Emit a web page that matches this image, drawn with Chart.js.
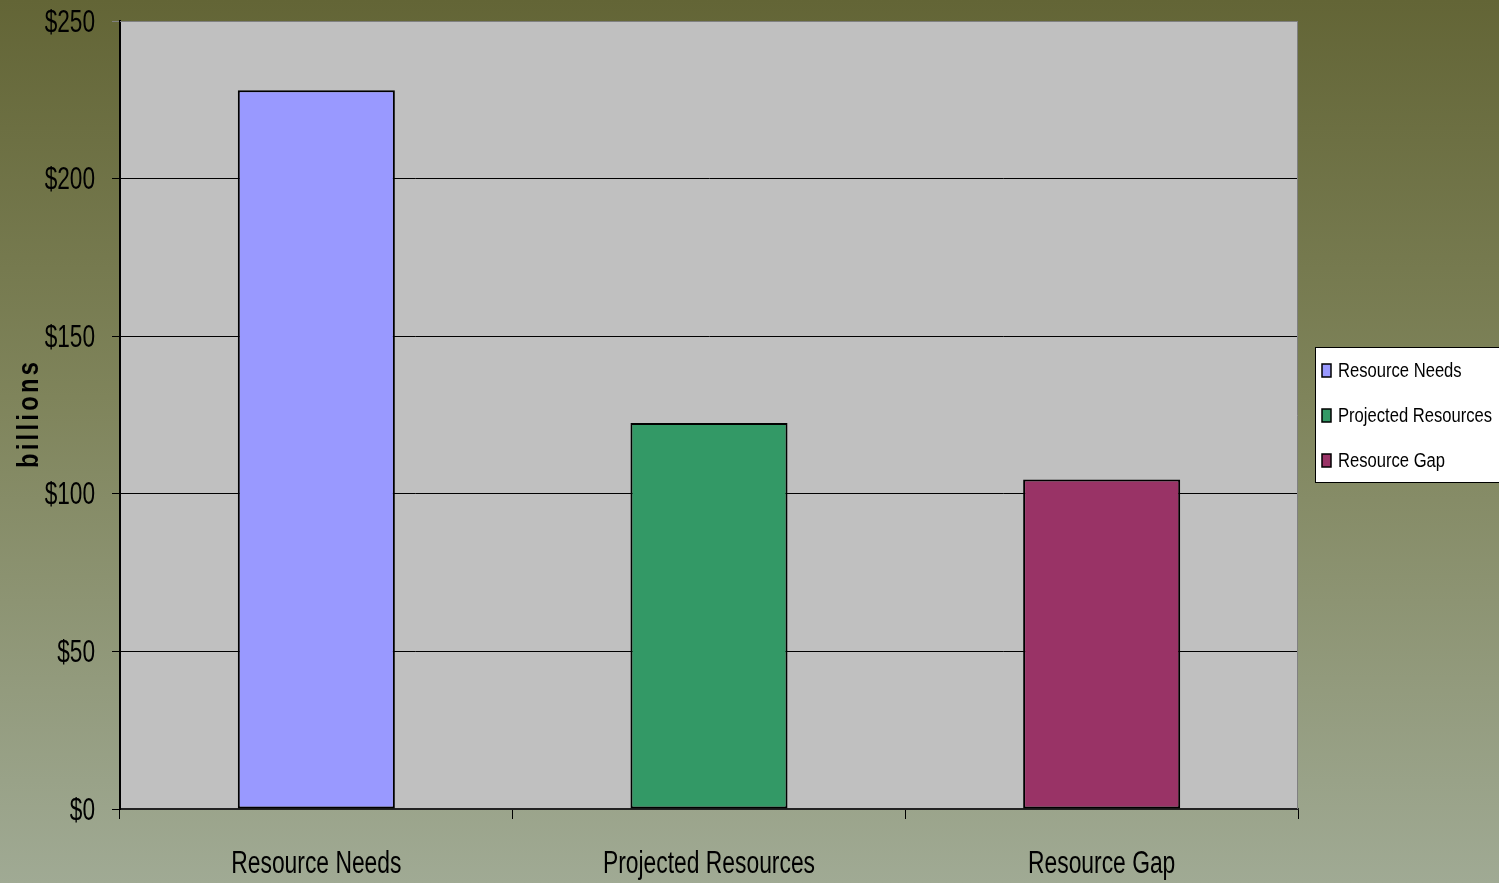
<!DOCTYPE html>
<html>
<head>
<meta charset="utf-8">
<script src="https://cdn.jsdelivr.net/npm/chart.js@4/dist/chart.umd.min.js"></script>
<style>
  html, body { margin: 0; padding: 0; }
  body {
    width: 1499px; height: 883px; overflow: hidden;
    background: linear-gradient(to bottom, #636536 0%, #7f845b 45%, #a0aa94 100%);
  }
  #c { display: block; }
</style>
</head>
<body>
<canvas id="c" width="1499" height="883"></canvas>
<script>
// Funding picture, in billions of dollars
const categories = ['Resource Needs', 'Projected Resources', 'Resource Gap'];
const values = [228, 122.5, 104.5];
const barColors = ['#9999FF', '#339966', '#993366'];
const yTicks = [0, 50, 100, 150, 200, 250];
const yTitle = 'billions';

const SANS = '"Liberation Sans", Arial, sans-serif';

// Text squeezed horizontally, for the condensed lettering
function squeezedText(ctx, text, x, y, sx, align, baseline) {
  ctx.save();
  ctx.translate(x, y);
  ctx.scale(sx, 1);
  ctx.textAlign = align;
  ctx.textBaseline = baseline;
  ctx.fillText(text, 0, 0);
  ctx.restore();
}

// Grey plot area with a thin grey frame on the top and right edges
const plotArea = {
  id: 'plotArea',
  beforeDraw(chart) {
    const { ctx, chartArea: a } = chart;
    ctx.save();
    ctx.fillStyle = '#C0C0C0';
    ctx.fillRect(a.left, a.top, a.right - a.left, a.bottom - a.top);
    ctx.restore();
  },
  beforeDatasetsDraw(chart) {
    const { ctx, chartArea: a } = chart;
    ctx.save();
    ctx.strokeStyle = '#808080';
    ctx.lineWidth = 1;
    ctx.beginPath();
    ctx.moveTo(a.left, a.top + 0.5);
    ctx.lineTo(a.right - 0.5, a.top + 0.5);
    ctx.lineTo(a.right - 0.5, a.bottom);
    ctx.stroke();
    ctx.restore();
  }
};

// Axis labels in condensed lettering, placed by the chart's own scales
const axisLabels = {
  id: 'axisLabels',
  afterDraw(chart) {
    const { ctx } = chart;
    const y = chart.scales.y, x = chart.scales.x;
    ctx.save();
    ctx.fillStyle = '#000';
    ctx.font = '31px ' + SANS;
    y.ticks.forEach(t => {
      squeezedText(ctx, '$' + t.value, 95, y.getPixelForValue(t.value) + 2, 0.73, 'right', 'middle');
    });
    chart.data.labels.forEach((label, i) => {
      squeezedText(ctx, label, x.getPixelForValue(i), 873, 0.737, 'center', 'alphabetic');
    });
    ctx.restore();
  }
};

// Spaced-out vertical axis title
const axisTitle = {
  id: 'axisTitle',
  afterDraw(chart) {
    const { ctx } = chart;
    ctx.save();
    ctx.translate(38, 415);
    ctx.rotate(-Math.PI / 2);
    ctx.scale(0.82, 1);
    ctx.font = 'bold 29px ' + SANS;
    ctx.letterSpacing = '4px';
    ctx.fillStyle = '#000';
    ctx.textAlign = 'center';
    ctx.textBaseline = 'alphabetic';
    ctx.fillText(yTitle, 2, 0);
    ctx.restore();
  }
};

// Boxed legend, one entry per category
const boxLegend = {
  id: 'boxLegend',
  afterDraw(chart) {
    const { ctx } = chart;
    const x = 1315.5, y = 347.5, w = 190, h = 135;
    ctx.save();
    ctx.fillStyle = '#FFFFFF';
    ctx.fillRect(x, y, w, h);
    ctx.strokeStyle = '#000';
    ctx.lineWidth = 1;
    ctx.strokeRect(x, y, w, h);
    ctx.font = '20px ' + SANS;
    chart.data.labels.forEach((label, i) => {
      const cy = 370 + i * 45;
      ctx.fillStyle = chart.data.datasets[0].backgroundColor[i];
      ctx.fillRect(1322, cy - 6, 9, 13);
      ctx.strokeStyle = '#000';
      ctx.lineWidth = 1.5;
      ctx.strokeRect(1322, cy - 6, 9, 13);
      ctx.fillStyle = '#000';
      squeezedText(ctx, label, 1338, cy + 7, 0.83, 'left', 'alphabetic');
    });
    ctx.restore();
  }
};

new Chart(document.getElementById('c'), {
  type: 'bar',
  data: {
    labels: categories,
    datasets: [{
      data: values,
      backgroundColor: barColors,
      borderColor: '#000',
      borderWidth: 2,
      borderSkipped: false,
      barPercentage: 0.4,
      categoryPercentage: 1
    }]
  },
  options: {
    responsive: false,
    animation: false,
    devicePixelRatio: 1,
    layout: { padding: { left: 0, top: 21, right: 201, bottom: 0 } },
    plugins: {
      legend: { display: false },
      tooltip: { enabled: false }
    },
    scales: {
      x: {
        grid: {
          offset: true,
          drawOnChartArea: false,
          drawTicks: true,
          tickLength: 10,
          color: '#000',
          lineWidth: 1
        },
        border: { color: '#222', width: 2 },
        ticks: { display: false },
        afterFit(scale) { scale.height = 74; }
      },
      y: {
        min: 0,
        max: 250,
        afterBuildTicks(scale) { scale.ticks = yTicks.map(v => ({ value: v })); },
        grid: {
          color: ctx => (ctx.tick && ctx.tick.value === 250 ? '#808080' : '#000'),
          lineWidth: 1,
          tickLength: 8
        },
        border: { color: '#000', width: 2 },
        ticks: { display: false },
        afterFit(scale) { scale.width = 120; }
      }
    }
  },
  plugins: [plotArea, axisLabels, axisTitle, boxLegend]
});
</script>
</body>
</html>
